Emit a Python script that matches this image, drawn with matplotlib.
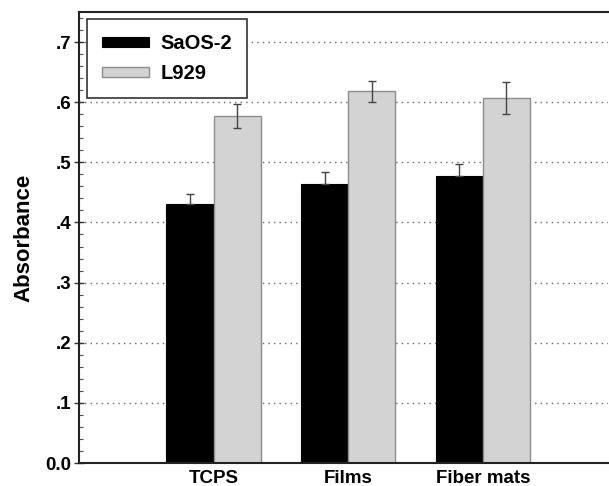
import matplotlib.pyplot as plt
import numpy as np
from matplotlib.ticker import FuncFormatter, MultipleLocator

plt.rcParams['font.family'] = ['Liberation Sans', 'DejaVu Sans']
plt.rcParams['font.weight'] = 'bold'

categories = ['TCPS', 'Films', 'Fiber mats']
saos2 = [0.430, 0.464, 0.478]
saos2_err = [0.018, 0.020, 0.020]
l929 = [0.577, 0.618, 0.607]
l929_err = [0.020, 0.018, 0.026]

x = np.arange(len(categories))
w = 0.35

fig = plt.figure(figsize=(6.09, 4.86), dpi=100)
ax = fig.add_axes([79 / 609, (486 - 463) / 486, (608 - 79) / 609, (463 - 12) / 486])

ax.bar(x - w / 2, saos2, w, color='black', edgecolor='black', linewidth=0.8,
       label='SaOS-2', zorder=2)
ax.bar(x + w / 2, l929, w, color='#d3d3d3', edgecolor='#8c8c8c', linewidth=1.0,
       label='L929', zorder=2)
# lower whisker of the black bars disappears into the bar
ax.errorbar(x - w / 2, saos2, yerr=[np.zeros(len(x)), saos2_err], fmt='none',
            ecolor='#444444', elinewidth=1.0, capsize=3, capthick=1.0, zorder=3)
ax.errorbar(x + w / 2, l929, yerr=l929_err, fmt='none', ecolor='#444444',
            elinewidth=1.0, capsize=3, capthick=1.0, zorder=3)

ax.set_xlim(-1, 2.93)
ax.set_ylim(0, 0.75)
ax.yaxis.set_major_locator(MultipleLocator(0.1))
ax.yaxis.set_minor_locator(MultipleLocator(0.02))
ax.yaxis.set_major_formatter(FuncFormatter(
    lambda v, p: '0.0' if abs(v) < 1e-9 else ('%.1f' % v).lstrip('0')))
ax.set_xticks(x)
ax.set_xticklabels(categories, fontsize=13.5, fontweight='bold')
ax.tick_params(axis='x', length=0, pad=5)
ax.tick_params(axis='y', which='major', direction='inout', length=7, width=1,
               labelsize=13.5, pad=2, colors='#333333', labelcolor='black')
ax.tick_params(axis='y', which='minor', direction='in', length=3, width=0.8,
               colors='#555555')
for lab in ax.get_yticklabels():
    lab.set_fontweight('bold')

ax.grid(axis='y', which='major', linestyle=(0, (1, 3)), color='#666666',
        linewidth=1.0, zorder=0)
ax.set_axisbelow(True)
ax.spines['right'].set_visible(False)
for s in ['left', 'bottom', 'top']:
    ax.spines[s].set_linewidth(1.5)
    ax.spines[s].set_color('#222222')

ax.set_ylabel('Absorbance', fontsize=16, fontweight='bold', labelpad=8)

leg = ax.legend(loc='upper left', bbox_to_anchor=(0.015, 0.985),
                prop={'weight': 'bold', 'size': 14.5}, fancybox=False,
                edgecolor='#333333', framealpha=1, handlelength=2.35,
                handleheight=0.4, borderpad=0.75, labelspacing=0.55,
                handletextpad=0.55, borderaxespad=0)
leg.get_frame().set_linewidth(1.2)

fig.savefig('out.png', dpi=100)
